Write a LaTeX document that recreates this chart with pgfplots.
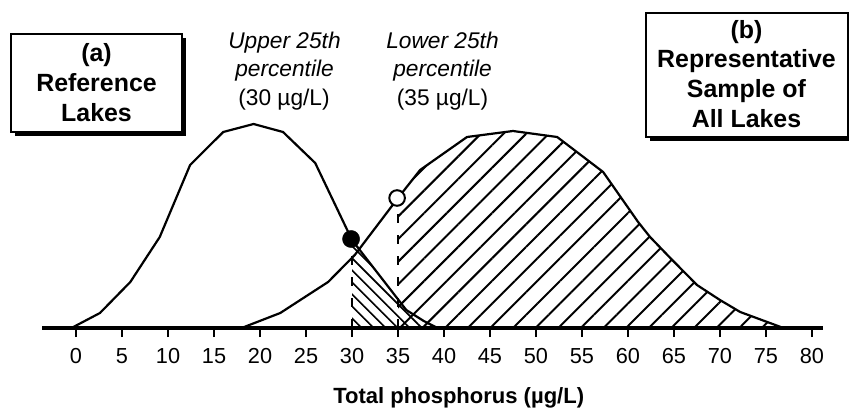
\documentclass[border=0pt]{standalone}
\usepackage{fontspec}
\setmainfont{Liberation Sans}
\usepackage{pgfplots}
\pgfplotsset{compat=1.18}
\usetikzlibrary{patterns.meta}
\newcommand\boxfont{\fontsize{25}{30}\selectfont\bfseries}
\newcommand\annfont{\fontsize{22.8}{27}\selectfont}
\begin{document}
\begin{tikzpicture}
\path[use as bounding box] (0bp,0bp) rectangle (849bp,411bp);
\begin{axis}[
  at={(42bp,83bp)}, anchor=south west,
  scale only axis, width=781bp, height=210bp,
  xmin=-3.7, xmax=81.2, ymin=0, ymax=210,
  clip=false,
  axis x line=bottom, axis y line=none,
  axis line style={line width=4.8bp,-},
  xtick={0,5,...,80}, ytick=\empty,
  xtick align=outside, major tick length=9bp,
  tick style={line width=1.4bp, black},
  /pgf/number format/assume math mode=true,
  xticklabel style={font=\fontsize{21.8}{24}\selectfont, anchor=base, yshift=-26bp},
  xlabel={Total phosphorus (µg/L)},
  xlabel style={at={(axis cs:41.6,-75)}, anchor=base, font=\bfseries\fontsize{22.1}{26}\selectfont},
]
% hatched tails
\addplot[draw=none, pattern={Lines[angle=-45,distance=8.5bp,line width=1.6bp]}]
  coordinates {(30,0) (30,88) (35.9,18) (37.8,7) (39.3,0)} \closedcycle;
\addplot[draw=none, pattern={Lines[angle=45,distance=16bp,line width=2bp]}]
  coordinates {(35,0) (35,130) (37.4,158) (42.5,191) (47.5,197) (52.3,191) (57.3,156) (61.1,106) (62.4,91) (64.6,70) (67.5,43) (70,28) (72.2,16) (76.9,0)} \closedcycle;
% reference lakes distribution
\addplot[line width=2.2bp, black] coordinates {(-0.5,0) (2.6,15) (5.9,46) (9.1,91) (12.4,163) (16,196) (19.3,204) (22.5,196) (26,165) (30,88) (35.9,18) (37.8,7) (39.3,0)};
% all lakes distribution
\addplot[line width=2.2bp, black] coordinates {(18,0) (22.2,15) (27.4,46) (30.3,73) (35,130) (37.4,158) (42.5,191) (47.5,197) (52.3,191) (57.3,156) (61.1,106) (62.4,91) (64.6,70) (67.5,43) (70,28) (72.2,16) (76.9,0)};
% percentile lines
\addplot[line width=2bp, black, dash pattern=on 9bp off 12bp] coordinates {(30,0) (30,82)};
\addplot[line width=2bp, black, dash pattern=on 9bp off 12bp] coordinates {(35,0) (35,122)};
\addplot[only marks, mark=*, mark size=8.6bp, mark options={fill=black, draw=black}] coordinates {(29.9,89)};
\addplot[only marks, mark=*, mark size=7.8bp, mark options={fill=white, draw=black, line width=2bp}] coordinates {(34.9,130)};
\end{axis}
% box (a)
\fill (15bp,275bp) rectangle (186bp,373bp);
\draw[line width=1.8bp, fill=white] (11bp,279bp) rectangle (182bp,377bp);
\node[anchor=base, inner sep=0pt, font=\boxfont] at (96.5bp,349bp) {(a)};
\node[anchor=base, inner sep=0pt, font=\boxfont] at (96.5bp,319bp) {Reference};
\node[anchor=base, inner sep=0pt, font=\boxfont] at (96.5bp,289bp) {Lakes};
% box (b)
\fill (650bp,270bp) rectangle (852bp,394bp);
\draw[line width=1.8bp, fill=white] (646bp,274bp) rectangle (848bp,398bp);
\node[anchor=base, inner sep=0pt, font=\boxfont] at (746.5bp,372bp) {(b)};
\node[anchor=base, inner sep=0pt, font=\boxfont] at (746.5bp,343bp) {Representative};
\node[anchor=base, inner sep=0pt, font=\boxfont] at (746.5bp,313bp) {Sample of};
\node[anchor=base, inner sep=0pt, font=\boxfont] at (746.5bp,283bp) {All Lakes};
% annotations
\node[anchor=base, inner sep=0pt, font=\annfont\itshape] at (284.5bp,362bp) {Upper 25th};
\node[anchor=base, inner sep=0pt, font=\annfont\itshape] at (284.5bp,334bp) {percentile};
\node[anchor=base, inner sep=0pt, font=\annfont] at (284bp,305bp) {(30 µg/L)};
\node[anchor=base, inner sep=0pt, font=\annfont\itshape] at (442.5bp,362bp) {Lower 25th};
\node[anchor=base, inner sep=0pt, font=\annfont\itshape] at (442.5bp,334bp) {percentile};
\node[anchor=base, inner sep=0pt, font=\annfont] at (442.5bp,305bp) {(35 µg/L)};
\end{tikzpicture}
\end{document}
